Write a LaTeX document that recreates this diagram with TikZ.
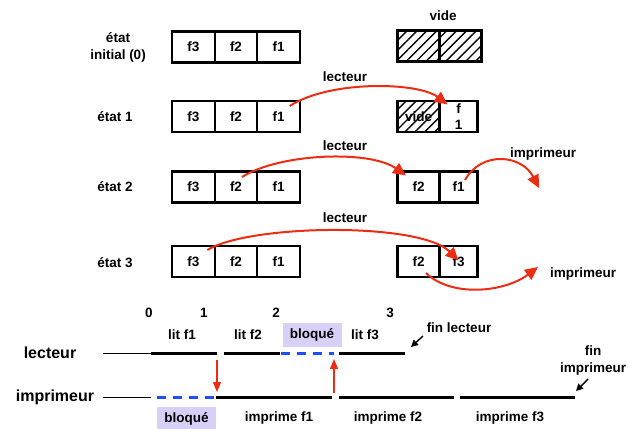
\documentclass[tikz,border=0pt]{standalone}
\usepackage{fontspec}
\setmainfont{Liberation Sans}
\usetikzlibrary{arrows.meta,patterns.meta}
\definecolor{arrred}{RGB}{235,45,20}
\definecolor{dashblue}{RGB}{30,80,250}
\definecolor{lav}{RGB}{216,208,246}
\begin{document}
\begin{tikzpicture}[x=1pt,y=-1pt,
  font=\bfseries\fontsize{13.5}{17}\selectfont,
  cell/.style={draw, line width=2.2pt, minimum width=42.7pt, minimum height=31pt, inner sep=0pt, outer sep=0pt},
  rcell/.style={cell, minimum width=42pt},
  bcell/.style={cell, minimum width=38pt},
  hatch/.style={pattern={Lines[angle=45,distance=7pt,line width=1.4pt]}},
  redarr/.style={draw=arrred, line width=2pt, -{Triangle[length=13pt,width=12pt]}},
  vred/.style={draw=arrred, line width=1.3pt, -{Triangle[length=10pt,width=8pt]}},
  blkarr/.style={draw=black, line width=1.4pt, -{Triangle[length=7pt,width=7pt]}},
  seg/.style={line width=3pt},
  thinseg/.style={line width=1pt},
  bluedash/.style={draw=dashblue, line width=3pt, dash pattern=on 9pt off 7pt},
  lavbox/.style={fill=lav, minimum width=59pt, minimum height=24pt, inner sep=0pt},
  lbl/.style={inner sep=0pt}
]
\useasboundingbox (0,0) rectangle (628,428);

% state labels
\node[lbl, align=center] (s0) at (118,47) {état\\initial (0)};
\node[lbl] (s1) at (115,117) {état 1};
\node[lbl] (s2) at (115,187) {état 2};
\node[lbl] (s3) at (115,263) {état 3};

% left buffers
\foreach \r/\y in {0/47,1/116.5,2/187,3/261.5}{
  \node[cell] (r\r a) at (193.3,\y) {f3};
  \node[cell] (r\r b) at (236,\y) {f2};
  \node[cell] (r\r c) at (278.7,\y) {f1};
}

% right buffers
\node[lbl] (vide) at (443,16) {vide};
\node[rcell, hatch] (v0a) at (418.5,46) {};
\node[rcell, hatch] (v0b) at (460.5,46) {};
\node[rcell, hatch] (v1a) at (418.5,116.5) {vide};
\node[bcell, align=center, font=\bfseries\fontsize{13.5}{16}\selectfont] (v1b) at (458.5,116.5) {f\\1};
\node[rcell] (v2a) at (418.5,187) {f2};
\node[bcell] (v2b) at (458.5,187) {f1};
\node[rcell] (v3a) at (418.5,261.5) {f2};
\node[bcell] (v3b) at (458.5,261.5) {f3};

% labels of arrows
\node[lbl] (l1) at (345,77) {lecteur};
\node[lbl] (l2) at (345,146) {lecteur};
\node[lbl] (l3) at (345,218) {lecteur};
\node[lbl] (i2) at (543,154) {imprimeur};
\node[lbl] (i3) at (583,274) {imprimeur};

\coordinate (e2) at (539,188);
\coordinate (e3) at (538,267);

% curved arrows
\draw[redarr] ([shift={(11,-10.5)}]r1c.center) .. controls (330,80) and (418,82) .. ([shift={(-11,-12)}]v1b.center);
\draw[redarr] ([shift={(6,-10)}]r2b.center) .. controls (280,153) and (370,150) .. ([shift={(-12.5,-11.5)}]v2a.center);
\draw[redarr] ([shift={(6.5,-7)}]v2b.center) .. controls (482,150) and (522,155) .. (e2);
\draw[redarr] ([shift={(14,-11.5)}]r3a.center) .. controls (250,224) and (420,222) .. ([shift={(0,-1)}]v3b.center);
\draw[redarr] ([shift={(7.5,11.5)}]v3a.center) .. controls (452,298) and (505,292) .. (e3);

% timeline
\node[lbl] (t0) at (149,313) {0};
\node[lbl] (t1) at (204,313) {1};
\node[lbl] (t2) at (276,313) {2};
\node[lbl] (t3) at (390,313) {3};

\node[lbl] (rowl) at (50,353) {\fontsize{16}{18}\selectfont lecteur};
\node[lbl] (rowi) at (55,397) {\fontsize{16}{18}\selectfont imprimeur};

\node[lbl] (lf1) at (182,335) {lit f1};
\node[lbl] (lf2) at (248,335) {lit f2};
\node[lavbox] (bl1) at (312,335) {bloqué};
\node[lbl] (lf3) at (365,335) {lit f3};
\node[lbl] (finl) at (459,328) {fin lecteur};
\node[lbl, align=center] (fini) at (593,361) {fin\\imprimeur};

\node[lavbox] (bl2) at (186.5,419) {bloqué};
\node[lbl] (if1) at (279,418) {imprime f1};
\node[lbl] (if2) at (388,418) {imprime f2};
\node[lbl] (if3) at (510,418) {imprime f3};

% lecteur line
\draw[thinseg] (103,353) -- (151,353);
\draw[seg] (151,353) -- (217,353);
\draw[seg] (224,353) -- (280,353);
\draw[bluedash] (281,353) -- (334,353);
\draw[seg] (339,353) -- (405,353);

% imprimeur line
\draw[thinseg] (103,397) -- (151,397);
\draw[bluedash] (157,397) -- (216,397);
\draw[seg] (216,397) -- (332,397);
\draw[seg] (339,397) -- (454,397);
\draw[seg] (460,397) -- (575,397);

% synchronisation arrows
\coordinate (d1) at (217,360);
\coordinate (d2) at (217,392);
\coordinate (u1) at (334,393);
\coordinate (u2) at (334,359);
\draw[vred] (d1) -- (d2);
\draw[vred] (u1) -- (u2);

% end arrows
\coordinate (fl1) at (423,336);
\coordinate (fl2) at (411,347);
\coordinate (fi1) at (588,379);
\coordinate (fi2) at (576,391);
\draw[blkarr] (fl1) -- (fl2);
\draw[blkarr] (fi1) -- (fi2);
\end{tikzpicture}
\end{document}
